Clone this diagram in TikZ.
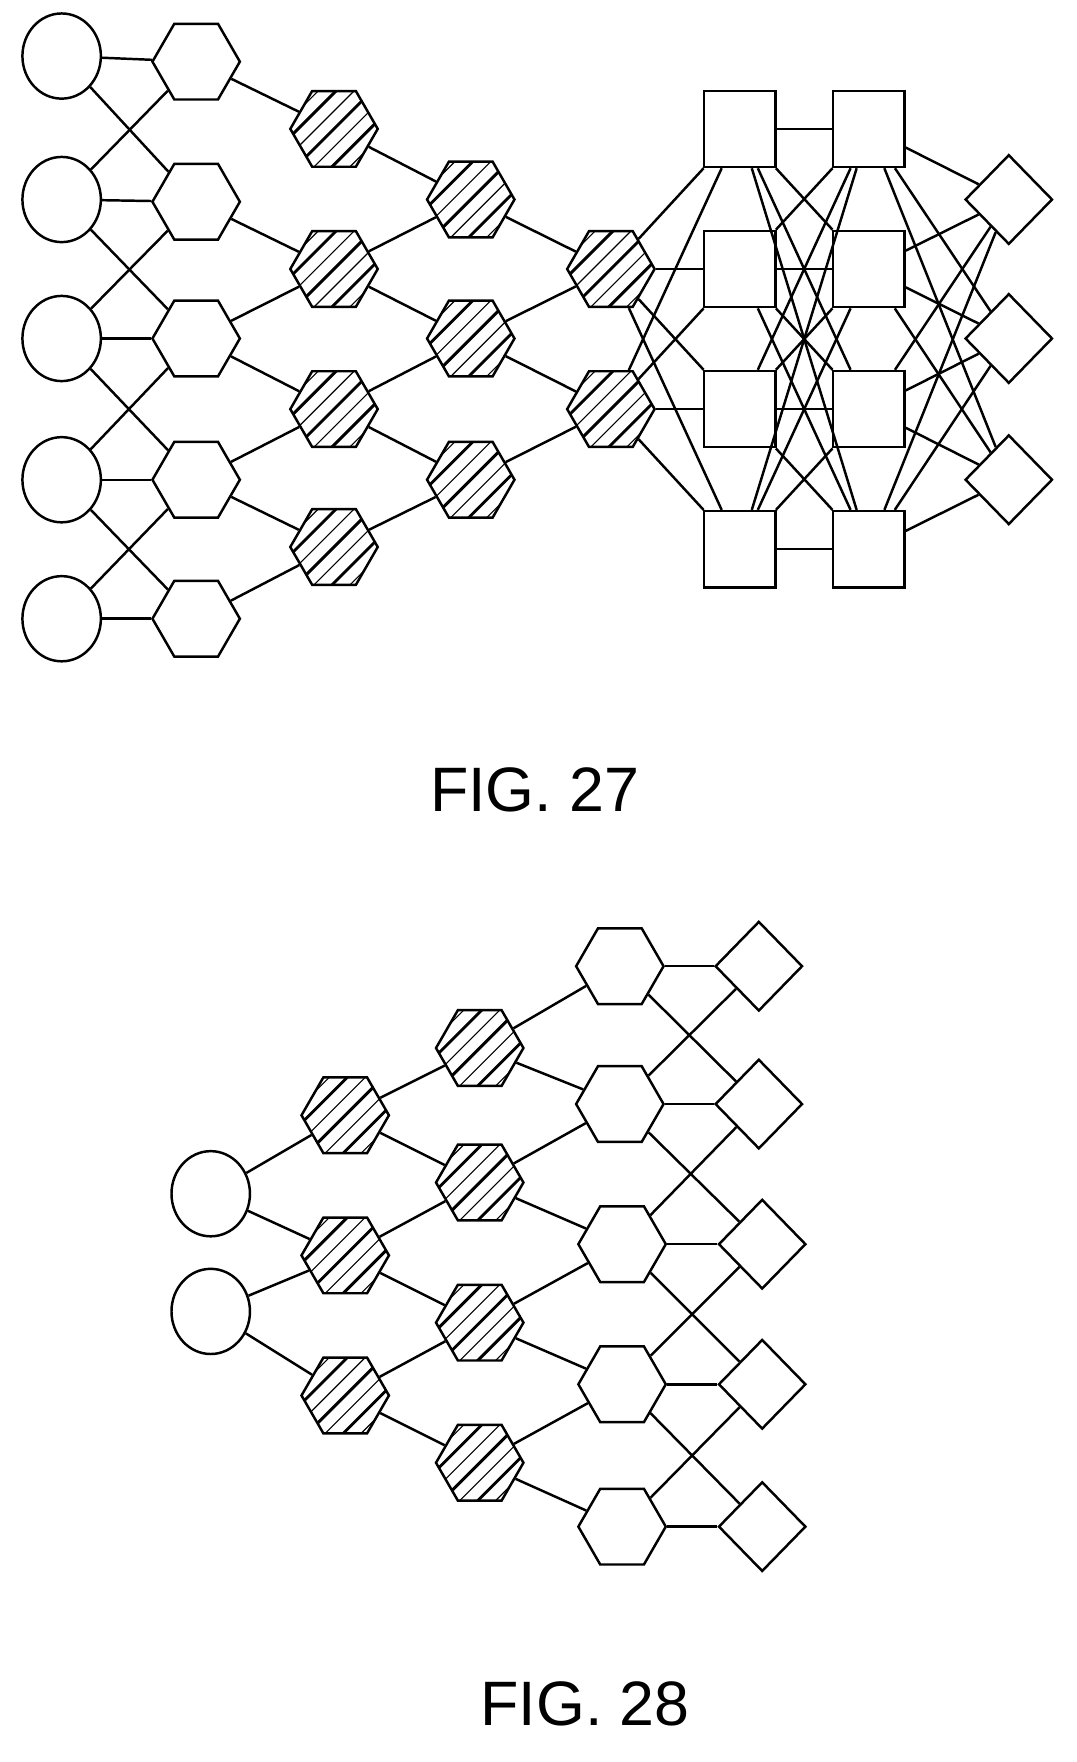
\documentclass[tikz,border=0pt]{standalone}
\usepackage{fontspec}
\setmainfont{Liberation Sans}
\usetikzlibrary{shapes.geometric, calc}

\tikzset{
  unit/.style={draw, line width=2.2pt, ellipse, minimum width=70pt, minimum height=76pt, inner sep=0pt},
  hexa/.style={draw, line width=2.2pt, regular polygon, regular polygon sides=6, minimum size=78pt, inner sep=0pt},
  hatched/.style={hexa, path picture={
      \foreach \k in {-2,0,2}
        \draw[line width=2.6pt] ($(path picture bounding box.center)+(\k*16pt-45pt,-45pt)$) -- ++(90pt,90pt);
      \foreach \k in {-3,-1,1,3}
        \draw[line width=1pt] ($(path picture bounding box.center)+(\k*16pt-45pt,-45pt)$) -- ++(90pt,90pt);}},
  box/.style={draw, line width=2.2pt, minimum width=64pt, minimum height=68pt, inner sep=0pt},
  rhomb/.style={draw, line width=2.2pt, diamond, minimum width=78pt, minimum height=80pt, inner sep=0pt},
  wire/.style={line width=2.2pt},
  caption/.style={font=\fontsize{56}{56}\selectfont}
}

\begin{document}
\begin{tikzpicture}[x=1pt, y=-1pt]
  \useasboundingbox (0,0) rectangle (960,1572);

  % FIG. 27
  \node[unit] (C1) at (55,50)  {};
  \node[unit] (C2) at (55,178) {};
  \node[unit] (C3) at (55,302) {};
  \node[unit] (C4) at (55,428) {};
  \node[unit] (C5) at (55,552) {};
  \node[hexa] (P1) at (175,55)  {};
  \node[hexa] (P2) at (175,180) {};
  \node[hexa] (P3) at (175,302) {};
  \node[hexa] (P4) at (175,428) {};
  \node[hexa] (P5) at (175,552) {};
  \node[hatched] (Q1) at (298,115) {};
  \node[hatched] (Q2) at (298,240) {};
  \node[hatched] (Q3) at (298,365) {};
  \node[hatched] (Q4) at (298,488) {};
  \node[hatched] (R1) at (420,178) {};
  \node[hatched] (R2) at (420,302) {};
  \node[hatched] (R3) at (420,428) {};
  \node[hatched] (T1) at (545,240) {};
  \node[hatched] (T2) at (545,365) {};
  \node[box] (S1) at (660,115) {};
  \node[box] (S2) at (660,240) {};
  \node[box] (S3) at (660,365) {};
  \node[box] (S4) at (660,490) {};
  \node[box] (U1) at (775,115) {};
  \node[box] (U2) at (775,240) {};
  \node[box] (U3) at (775,365) {};
  \node[box] (U4) at (775,490) {};
  \node[rhomb] (V1) at (900,178) {};
  \node[rhomb] (V2) at (900,302) {};
  \node[rhomb] (V3) at (900,428) {};
  \node[caption] (F27) at (477,705) {FIG. 27};

  \foreach \i in {1,...,5} \draw[wire] (C\i) -- (P\i);
  \foreach \i/\j in {1/2,2/3,3/4,4/5} {
    \draw[wire] (C\i) -- (P\j);
    \draw[wire] (C\j) -- (P\i);
  }
  \draw[wire] (P1) -- (Q1);
  \draw[wire] (P2) -- (Q2);
  \draw[wire] (P3) -- (Q2);
  \draw[wire] (P3) -- (Q3);
  \draw[wire] (P4) -- (Q3);
  \draw[wire] (P4) -- (Q4);
  \draw[wire] (P5) -- (Q4);
  \draw[wire] (Q1) -- (R1);
  \draw[wire] (Q2) -- (R1);
  \draw[wire] (Q2) -- (R2);
  \draw[wire] (Q3) -- (R2);
  \draw[wire] (Q3) -- (R3);
  \draw[wire] (Q4) -- (R3);
  \draw[wire] (R1) -- (T1);
  \draw[wire] (R2) -- (T1);
  \draw[wire] (R2) -- (T2);
  \draw[wire] (R3) -- (T2);
  \foreach \i in {1,2} \foreach \j in {1,...,4} \draw[wire] (T\i) -- (S\j);
  \foreach \i in {1,...,4} \foreach \j in {1,...,4} \draw[wire] (S\i) -- (U\j);
  \foreach \i in {1,...,4} \foreach \j in {1,2,3} \draw[wire] (U\i) -- (V\j);

  % FIG. 28
  \node[unit] (G1) at (188,1065) {};
  \node[unit] (G2) at (188,1170) {};
  \node[hatched] (A1) at (308,995)  {};
  \node[hatched] (A2) at (308,1120) {};
  \node[hatched] (A3) at (308,1245) {};
  \node[hatched] (B1) at (428,935)  {};
  \node[hatched] (B2) at (428,1055) {};
  \node[hatched] (B3) at (428,1180) {};
  \node[hatched] (B4) at (428,1305) {};
  \node[hexa] (D1) at (553,862)  {};
  \node[hexa] (D2) at (553,985)  {};
  \node[hexa] (D3) at (555,1110) {};
  \node[hexa] (D4) at (555,1235) {};
  \node[hexa] (D5) at (555,1362) {};
  \node[rhomb] (E1) at (677,862)  {};
  \node[rhomb] (E2) at (677,985)  {};
  \node[rhomb] (E3) at (680,1110) {};
  \node[rhomb] (E4) at (680,1235) {};
  \node[rhomb] (E5) at (680,1362) {};
  \node[caption] (F28) at (522,1520) {FIG. 28};

  \draw[wire] (G1) -- (A1);
  \draw[wire] (G1) -- (A2);
  \draw[wire] (G2) -- (A2);
  \draw[wire] (G2) -- (A3);
  \foreach \i/\j/\k in {1/1/2,2/2/3,3/3/4} {
    \draw[wire] (A\i) -- (B\j);
    \draw[wire] (A\i) -- (B\k);
  }
  \foreach \i/\j/\k in {1/1/2,2/2/3,3/3/4,4/4/5} {
    \draw[wire] (B\i) -- (D\j);
    \draw[wire] (B\i) -- (D\k);
  }
  \foreach \i in {1,...,5} \draw[wire] (D\i) -- (E\i);
  \foreach \i/\j in {1/2,2/3,3/4,4/5} {
    \draw[wire] (D\i) -- (E\j);
    \draw[wire] (D\j) -- (E\i);
  }
\end{tikzpicture}
\end{document}
